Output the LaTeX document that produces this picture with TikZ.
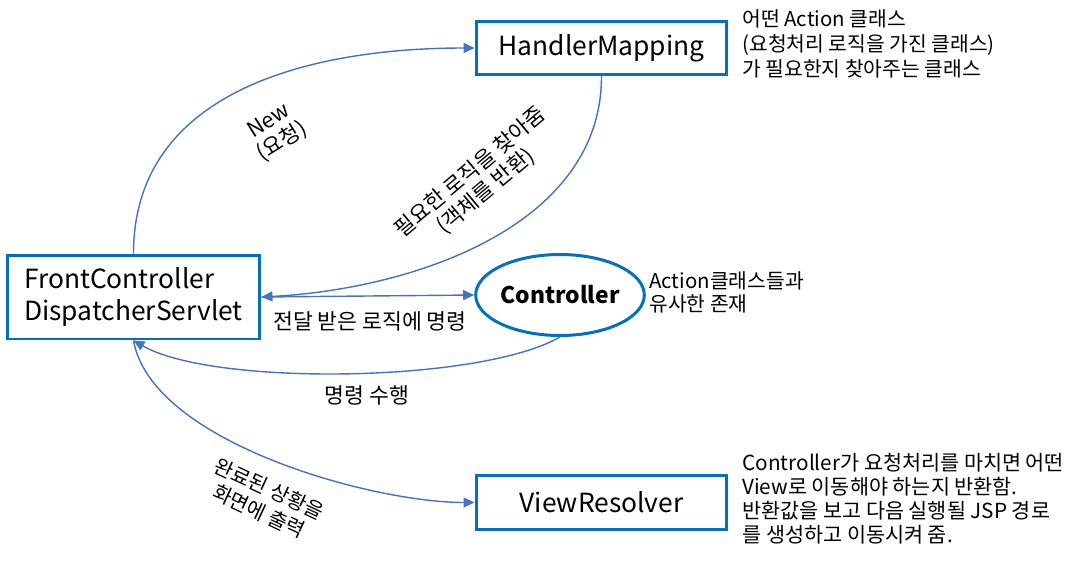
\documentclass[tikz,border=0pt]{standalone}
\usepackage{fontspec}
\setmainfont{Noto Sans CJK KR}
\usepackage{xcolor}
\usetikzlibrary{arrows.meta,positioning,shapes.geometric}
\definecolor{boxblue}{HTML}{0070C0}
\definecolor{linkblue}{HTML}{4472C4}

\begin{document}
\begin{tikzpicture}[x=0.02cm, y=-0.02cm,
  box/.style={draw=boxblue, line width=1.7pt, inner sep=4pt,
              minimum width=5.02cm, minimum height=1.07cm,
              font=\fontsize{15}{19}\selectfont},
  oval/.style={draw=boxblue, ellipse, line width=1.7pt, inner sep=0pt,
               minimum width=3.36cm, minimum height=1.62cm,
               font=\fontsize{13}{16}\selectfont\bfseries},
  note/.style={align=left, inner sep=0pt,
               font=\fontsize{11.6}{14.2}\selectfont},
  lbl/.style={align=center, inner sep=1pt,
              font=\fontsize{12.3}{14}\selectfont},
  a/.style={-{Triangle[length=2.2mm, width=2mm]}, linkblue, line width=0.8pt}]
\useasboundingbox (0,0) rectangle (1084,561);

% boxes
\node[box] (hm) at (601.5,48) {HandlerMapping};
\node[box, minimum width=5.06cm, minimum height=1.68cm, align=left,
      font=\fontsize{15}{18.7}\selectfont] (fc) at (133.5,297)
  {FrontController\\DispatcherServlet};
\node[oval] (ctrl) at (560,295) {Controller};
\node[box] (vr) at (601.5,502.5) {ViewResolver};

% notes
\node[note, anchor=north west] (hmnote) at (742,9)
  {어떤 Action 클래스\\(요청처리 로직을 가진 클래스)\\가 필요한지 찾아주는 클래스};
\node[note, anchor=north west, font=\fontsize{11.6}{13}\selectfont]
  (ctrlnote) at (649,271) {Action클래스들과\\유사한 존재};
\node[note, anchor=north west, font=\fontsize{11.8}{13.6}\selectfont]
  (vrnote) at (742,453)
  {Controller가 요청처리를 마치면 어떤\\View로 이동해야 하는지 반환함.\\반환값을 보고 다음 실행될 JSP 경로\\를 생성하고 이동시켜 줌.};

% connectors
\draw[a] (fc.north) to[out=90, in=180, looseness=1.05] (hm.west);
\draw[a] (hm.south) to[out=-90, in=3, looseness=0.95] (fc.east);
\draw[a] (fc.east) -- (ctrl.west);
\draw[a] (ctrl.south) to[out=-150, in=-30, looseness=0.55] (fc.south);
\draw[a] (fc.south) to[out=-80, in=180, looseness=0.7] (vr.west);

% labels
\node[lbl, rotate=32] (newlbl) at (276,132) {New\\(요청)};
\node[lbl, rotate=40] (findlbl) at (478,182)
  {필요한 로직을 찾아줌\\(객체를 반환)};
\node[lbl] (sendlbl) at (370,321) {전달 받은 로직에 명령};
\node[lbl] (runlbl) at (367,395) {명령 수행};
\node[lbl, rotate=-25, font=\fontsize{11.6}{14}\selectfont] (outlbl)
  at (264,500) {완료된 상황을\\화면에 출력};
\end{tikzpicture}
\end{document}
